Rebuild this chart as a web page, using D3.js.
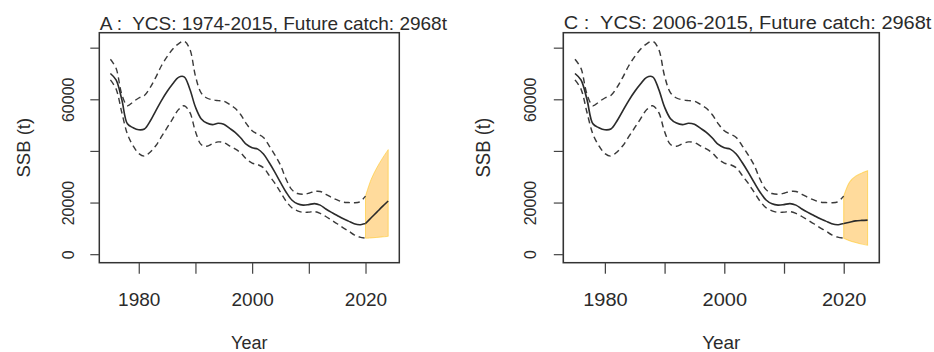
<!DOCTYPE html>
<html>
<head>
<meta charset="utf-8">
<script src="https://cdn.jsdelivr.net/npm/d3@7"></script>
<style>
  html, body { margin: 0; padding: 0; background: #fff; }
  svg { display: block; font-family: "Liberation Sans", Arial, sans-serif; }
</style>
</head>
<body>
<svg id="chart" width="934" height="352"></svg>
<script>
// Historical spawning stock biomass (t) with confidence bounds
const years = d3.range(1975, 2021);
const ssbMedian = [
  70000, 67500, 60000, 50500, 49000, 48200, 48500, 51500, 55500, 59500,
  63000, 66000, 68500, 68700, 64000, 57000, 52500, 50800, 50200, 50700,
  50300, 48800, 47200, 45000, 42500, 41200, 40700, 38800, 35500, 31800,
  27800, 24000, 21000, 19500, 19000, 19200, 19600, 19000, 17500, 16200,
  15000, 13800, 12800, 11800, 11400, 11900
];
const ssbUpper = [
  75500, 72000, 62000, 57500, 59000, 60500, 61500, 64500, 68500, 73000,
  76500, 79500, 81500, 82500, 79500, 69000, 62500, 60500, 59800, 59500,
  59300, 58000, 56500, 54000, 50500, 47800, 46500, 45200, 42000, 38500,
  34500, 29000, 25000, 23500, 23200, 23600, 24300, 24300, 23200, 22000,
  21000, 20200, 20000, 19900, 20300, 22500
];
const ssbLower = [
  67500, 64000, 55000, 46500, 42000, 39000, 38000, 39500, 42000, 45500,
  49000, 52500, 56000, 57500, 55000, 47500, 42500, 41800, 42800, 43500,
  43200, 42000, 40800, 39200, 36800, 35300, 34700, 33500, 30500, 27500,
  24000, 20500, 18000, 16800, 16200, 16300, 16500, 15800, 14600, 13200,
  11800, 10300, 9000, 7500, 6600, 6200
];

// Projection years and projected SSB for each recruitment scenario
const projYears = [2020, 2021, 2022, 2023, 2024];
const projMedianA = [11900, 14100, 16300, 18500, 20600];
const projUpperA  = [22500, 29000, 33500, 37200, 40500];
const projLowerA  = [6200, 6300, 6500, 6700, 6900];
const projMedianC = [11900, 12400, 12900, 13100, 13200];
const projUpperC  = [22500, 28000, 30200, 31400, 32300];
const projLowerC  = [6200, 5200, 4500, 3900, 3500];

const panelTitles = [
  "A :  YCS: 1974-2015, Future catch: 2968t",
  "C :  YCS: 2006-2015, Future catch: 2968t"
];

const xTicks = [1980, 1990, 2000, 2010, 2020];
const xTickLabels = ["1980", "", "2000", "", "2020"];
const yTicks = [0, 20000, 40000, 60000, 80000];
const yTickLabels = ["0", "20000", "", "60000", ""];

const xLabel = "Year";
const yLabel = "SSB (t)";

// ---- layout (panel-local coordinates) ----
const box = { left: 99.3, right: 399.3, top: 32.7, bottom: 262.7 };
const panels = [
  { title: panelTitles[0], med: projMedianA, up: projUpperA, lo: projLowerA, tx: 0, sx: 1 },
  { title: panelTitles[1], med: projMedianC, up: projUpperC, lo: projLowerC, tx: 458.7, sx: 1.0533 }
];

// R-style 4% padding on both axes
const xMin = 1975, xMax = 2024;
const xPad = (xMax - xMin) * 0.04;
const yMaxData = 82500, yMinData = 0;
const yPad = (yMaxData - yMinData) * 0.04;

const x = d3.scaleLinear().domain([xMin - xPad, xMax + xPad]).range([box.left, box.right]);
const y = d3.scaleLinear().domain([yMinData - yPad, yMaxData + yPad]).range([box.bottom, box.top]);

const svg = d3.select("#chart");
const ink = "#2b2b2b";

const line = d3.line()
  .x(d => x(d[0]))
  .y(d => y(d[1]))
  .curve(d3.curveCatmullRom.alpha(0.5));

panels.forEach(p => {
  const g = svg.append("g").attr("transform", `translate(${p.tx},0) scale(${p.sx},1)`);

  // projection envelope
  const band = d3.area()
    .x((d, i) => x(projYears[i]))
    .y0((d, i) => y(p.lo[i]))
    .y1((d, i) => y(p.up[i]))
    .curve(d3.curveCatmullRom.alpha(0.5));
  g.append("path")
    .datum(projYears)
    .attr("d", band)
    .attr("fill", "rgba(255,170,20,0.42)")
    .attr("stroke", "rgba(255,200,40,0.6)")
    .attr("stroke-width", 1);

  // confidence bounds
  [ssbUpper, ssbLower].forEach(arr => {
    g.append("path")
      .datum(years.map((yr, i) => [yr, arr[i]]))
      .attr("d", line)
      .attr("fill", "none")
      .attr("stroke", "#3a3a3a")
      .attr("stroke-width", 1.4)
      .attr("stroke-dasharray", "6,4");
  });

  // median SSB, historical then projected
  g.append("path")
    .datum(years.map((yr, i) => [yr, ssbMedian[i]]))
    .attr("d", line)
    .attr("fill", "none")
    .attr("stroke", ink)
    .attr("stroke-width", 1.6);
  g.append("path")
    .datum(projYears.map((yr, i) => [yr, p.med[i]]))
    .attr("d", line)
    .attr("fill", "none")
    .attr("stroke", ink)
    .attr("stroke-width", 1.6);

  // frame
  g.append("rect")
    .attr("x", box.left).attr("y", box.top)
    .attr("width", box.right - box.left).attr("height", box.bottom - box.top)
    .attr("fill", "none").attr("stroke", "#333").attr("stroke-width", 1.5);

  // x axis
  const xAxis = d3.axisBottom(x).tickValues(xTicks)
    .tickSize(11).tickPadding(0).tickFormat((d, i) => xTickLabels[i]);
  const gx = g.append("g").attr("transform", `translate(0,${box.bottom})`).call(xAxis);
  gx.select(".domain").remove();
  gx.selectAll(".tick line").attr("stroke", "#444").attr("stroke-width", 1.2);
  gx.selectAll(".tick text")
    .attr("y", 43).attr("dy", null)
    .attr("fill", ink).style("font-size", "19px");

  // y axis
  const yAxis = d3.axisLeft(y).tickValues(yTicks)
    .tickSize(9).tickPadding(0).tickFormat((d, i) => yTickLabels[i]);
  const gy = g.append("g").attr("transform", `translate(${box.left},0)`).call(yAxis);
  gy.select(".domain").remove();
  gy.selectAll(".tick line").attr("stroke", "#444").attr("stroke-width", 1.2);
  gy.selectAll(".tick text")
    .attr("x", null).attr("dy", null)
    .attr("text-anchor", "middle")
    .attr("transform", "translate(-25.8,0) rotate(-90)")
    .attr("fill", ink).style("font-size", "16px");

  // axis titles
  g.append("text")
    .attr("x", (box.left + box.right) / 2).attr("y", 349)
    .attr("text-anchor", "middle").attr("fill", ink).style("font-size", "18px")
    .text(xLabel);
  g.append("text")
    .attr("transform", `translate(30,${(box.top + box.bottom) / 2}) rotate(-90)`)
    .attr("text-anchor", "middle").attr("fill", ink).style("font-size", "18.5px")
    .text(yLabel);

  // panel title
  g.append("text")
    .attr("x", box.left + 0.5).attr("y", 29.5)
    .attr("fill", ink).style("font-size", "19px")
    .attr("xml:space", "preserve")
    .style("white-space", "pre")
    .text(p.title);
});
</script>
</body>
</html>
